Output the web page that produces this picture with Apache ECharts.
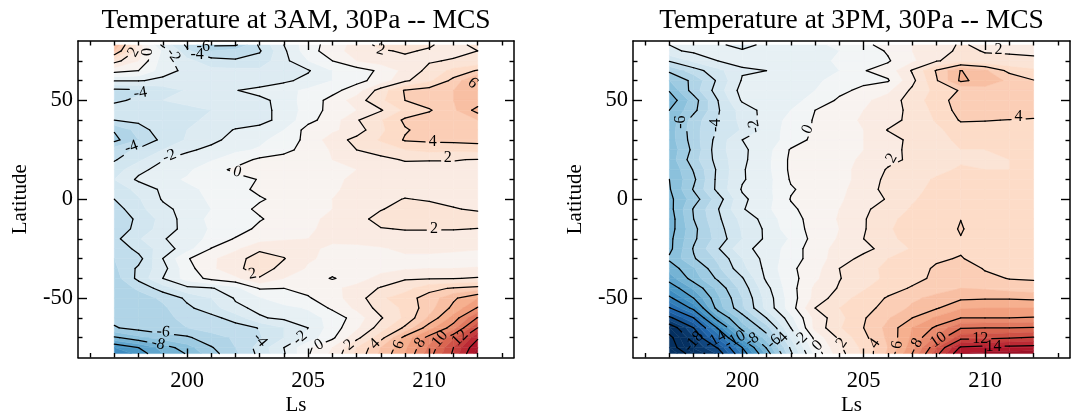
<!DOCTYPE html>
<html><head><meta charset="utf-8">
<style>html,body{margin:0;padding:0;background:#fff}#c{width:1080px;height:413px}</style>
<script src="https://cdn.jsdelivr.net/npm/echarts@6/dist/echarts.min.js"></script>
</head><body><div id="c"></div>
<script>
const titles = ['Temperature at 3AM, 30Pa -- MCS', 'Temperature at 3PM, 30Pa -- MCS'];
const ls = [197,198,199,200,201,202,203,204,205,206,207,208,209,210,211,212];
const lat = [78,75,70,65,60,55,50,45,40,35,30,25,20,15,10,5,0,-5,-10,-15,-20,-25,-30,-35,-40,-45,-50,-55,-60,-65,-70,-75,-78];
const am3 = [
[6,1.5,-2.3,-4.2,-6.2,-6.2,-3.8,-2,-0.4,0.4,1.4,2.3,2.4,2.1,1.6,2.3],
[5,1.5,-1.2,-3.8,-5,-4.5,-4.1,-2.2,-0.4,0.5,1.5,1.9,2.1,1.9,1.7,2.0],
[2.4,1,-1.5,-2.7,-3.6,-3.9,-3.6,-2.3,-1,0,1,1.5,1.8,1.9,2.1,2.2],
[0.4,0,-1.5,-2.3,-2.7,-2.7,-2.8,-2.4,-2.1,-1,-0.5,0.2,1.3,2.3,3.3,4.1],
[-1.9,-1.9,-2.3,-2.8,-3,-3,-2.8,-2.2,-1.7,-1,-0.3,0.4,1.8,2.8,4.3,6.4],
[-4.3,-4.2,-3.5,-2.9,-2.4,-2.05,-1.6,-1.3,-0.8,-0.3,0.5,2.5,4.1,4.5,5,5.5],
[-4.2,-3.8,-3,-2.8,-2.8,-2.5,-2.3,-1.6,-0.5,0.3,1.5,2.8,4,4.5,5,5.3],
[-3.5,-3.3,-3.2,-3.2,-3,-2.8,-2.4,-1.6,-0.6,0.4,1,1.9,3.2,3.9,4.8,6.4],
[-4,-3.7,-3.3,-3.1,-2.9,-2.7,-2.3,-1.7,-0.3,0.5,1.9,2.9,4.2,4.5,4.7,5],
[-5.9,-4.6,-3.3,-3,-2.7,-1.9,-1.7,-1,0.4,0.8,1.5,2.8,3.9,4.4,4.6,4.8],
[-6.3,-5,-3.7,-2.9,-2.3,-1.6,-1.2,-0.6,0.3,1.5,2.3,3.1,4.1,4.2,4.3,4.4],
[-4.5,-3.8,-3,-2.2,-1.7,-1.2,-0.9,-0.3,0.4,1.1,2,2.5,3,3.3,3.2,3.3],
[-4.1,-3.2,-2.05,-1.5,-1.1,-0.5,0.2,0.4,0.7,1,1.3,1.7,2.1,2.05,2.05,1.95],
[-3.5,-2.3,-1.6,-1.2,-0.4,0.2,0.4,0.5,0.7,0.9,1,1.2,1.5,1.6,1.7,1.7],
[-3,-1.8,-1.3,-0.9,-0.6,-0.3,0.05,0.3,0.6,0.9,1.1,1.2,1.4,1.5,1.5,1.5],
[-3.6,-2.7,-1.8,-1.2,-0.8,-0.3,0.2,0.4,0.6,0.9,1.2,1.4,1.6,1.6,1.6,1.7],
[-4,-3.1,-1.9,-1.3,-0.9,-0.5,-0.1,0.3,0.6,1,1.4,1.7,2.05,1.9,1.8,1.7],
[-4.5,-3.3,-2.3,-1.6,-1,-0.4,0.2,0.4,0.7,1,1.6,1.95,2.3,2.35,2.05,1.9],
[-5,-3.7,-2.7,-1.5,-0.8,-0.3,-0.1,0.5,0.8,1.2,1.7,2.3,2.6,2.7,2.6,2.4],
[-4.8,-3.6,-2.6,-1.6,-0.9,-0.6,0.3,0.6,0.9,1.2,1.5,1.95,2.05,2.05,2.05,1.98],
[-4.3,-3.1,-2.1,-1.4,-0.8,0.1,0.6,0.9,1,1.2,1.4,1.5,1.6,1.6,1.5,1.4],
[-5,-3.6,-2.6,-1.4,0.05,0.8,1.8,1.6,1.2,0.8,0.7,0.9,1.2,1.3,1.2,1.1],
[-5,-4.4,-2,-0.1,0.8,1.6,2.5,2.05,1.1,0.8,0.7,0.8,0.8,0.7,0.6,0.4],
[-5.2,-3.8,-2.4,-0.4,0.8,1.7,2.6,1.6,0.9,0.5,0.6,0.7,0.9,1,1,1.1],
[-5.5,-3.7,-2,-0.6,0.3,0.8,1.9,1,0.7,-0.1,0.6,1.3,1.9,1.9,1.95,2.1],
[-5.8,-4.8,-3.5,-2.3,-2.1,-1.3,0.1,0,0.3,0.8,1.3,2.1,2.6,3.7,4.1,4.4],
[-6,-5.5,-4.8,-3.8,-3,-1.9,-1.1,-0.4,-0.1,0.6,1.5,2.8,3.6,4.4,5.8,7],
[-6,-5.7,-5.2,-4.2,-3.5,-2.2,-1.8,-1.3,-0.9,0.2,1.2,2.4,3.2,4.6,6.3,8.1],
[-5.7,-5.4,-5.2,-4.8,-4.3,-3.6,-2.1,-1.8,-1.4,-0.7,0.5,1.9,3.2,5.2,7.4,10.1],
[-6.1,-5.6,-5.2,-5,-4.7,-4.4,-3.95,-3,-2,-0.5,0.8,2.5,4.2,6.6,8.5,12],
[-8.2,-7.3,-6.6,-6.2,-5.3,-4.9,-4.1,-3,-1.6,-0.2,1.7,3.6,6.4,8.4,10.8,13.8],
[-11,-10,-8.6,-7.4,-6.1,-5,-3.6,-2,-0.2,1,3,5,6.8,9.2,12,15],
[-12,-10.6,-9,-7.9,-6.4,-5.2,-3.7,-2.1,-0.1,1.2,3.2,5.2,7,9.5,12.2,15.5]
];
const pm3 = [
[-2,-1.8,-1.9,-2.2,-1.85,-1.5,-1.2,-0.8,-0.2,0.3,1,1.6,2.1,1.8,1.8,1.6],
[-2.2,-1.8,-1.8,-1.93,-1.7,-1.6,-1.3,-1,-0.5,0.1,1,1.6,2.2,1.95,1.95,1.9],
[-3.9,-2.8,-2,-1.8,-1.6,-1.5,-1.2,-0.9,-0.6,-0.1,0.8,1.9,2.5,2.2,2.1,2.1],
[-5.8,-4.5,-3.3,-2.1,-2,-1.2,-1.1,-1,-0.05,0.4,2.1,4.1,6.05,5.2,3.7,3.2],
[-7,-5.7,-3.8,-1.9,-1.5,-1.3,-1.1,-0.8,-0.3,-0.1,1.7,3.9,6.2,5.6,4.8,4.05],
[-7.9,-5.5,-3.5,-1.6,-1.3,-1.2,-1,-0.3,0.3,0.8,2.2,3.3,4.1,4.6,4.5,4.5],
[-8.7,-6.5,-4,-1.85,-1.3,-1.2,-0.8,0.2,0.8,1.4,2.5,3.5,4.5,4.7,4.6,4.5],
[-8,-6.3,-4.1,-2.6,-1.6,-1,0,0.6,1,1.5,2.3,3.3,4.4,4.6,4.6,4.5],
[-7.7,-5.5,-4,-2.7,-1.6,-0.7,0.1,0.7,1.1,1.6,2.3,3.1,4.1,4.05,3.97,3.9],
[-7.5,-5.4,-3.9,-2.9,-1.7,-0.5,0.1,0.6,1,2.05,2.4,2.8,3.5,3.6,3.6,3.5],
[-7.5,-5.5,-3.6,-2,-1.5,-0.6,0.3,0.7,1,1.5,2.3,2.7,3.2,3.2,3.2,3.2],
[-7.7,-5.7,-3.4,-2.2,-1.4,0.1,0.4,0.7,1,1.6,2.3,2.7,3,3,3.1,3.1],
[-7.6,-5.4,-3.6,-2.2,-1.3,0.2,0.5,0.8,1.1,1.7,2.2,2.6,2.9,2.9,3,3],
[-7.9,-5.9,-3.8,-2.1,-1.3,0.2,0.5,0.8,1.2,2.1,2.5,2.8,3.1,3,3,3],
[-8,-6.2,-3.7,-2.1,-1.4,0.1,0.4,0.7,1.3,2.3,2.7,3.1,3.4,3.4,3.1,3],
[-8.1,-5.9,-3.7,-1.9,-1.3,-0.1,0.4,0.8,1.4,2.4,2.8,3.2,3.6,3.6,3.3,3],
[-8.3,-6.5,-4.5,-2.2,-1.4,0.05,0.6,0.9,1.4,2.1,2.9,3.4,3.8,3.8,3.4,3.1],
[-8.4,-5.9,-4.05,-2.1,-1.2,-0.2,0.5,1,1.8,2.5,3.1,3.6,3.95,3.95,3.5,3.2],
[-8.6,-6,-4.2,-2.7,-1.6,-0.3,0.3,1.1,1.9,2.8,3.3,3.8,3.995,3.9,3.5,3.2],
[-8.5,-6.3,-4.4,-2.9,-1.8,-0.4,0.3,1,1.9,2.9,3.4,3.8,4.03,3.8,3.4,3.3],
[-8.3,-6.2,-4.6,-3,-1.8,-0.9,0.4,1.1,2,2.8,3.3,3.7,3.985,3.6,3.3,3.4],
[-8.3,-5.9,-4.1,-2.3,-1.6,-0.6,0.6,1.3,1.7,2.4,3.1,3.6,3.9,3.5,3.3,3.4],
[-7.8,-6.1,-4.8,-3,-1.6,-0.5,0.5,1.5,2.3,3,3.5,3.9,4.05,3.7,3.5,3.6],
[-8.6,-7.1,-5.2,-3.3,-1.7,-0.2,0.6,2,2.7,3.2,3.7,4.1,4.7,3.9,3.7,3.7],
[-9.5,-7.5,-5.8,-4.1,-1.8,-0.4,0.8,1.95,2.6,3.2,3.7,4.2,4.7,4.3,3.95,3.9],
[-10.8,-8.8,-6.7,-4.6,-2.3,-0.4,1.2,2.1,2.9,3.6,4.1,4.6,5,4.9,4.6,4.4],
[-12.3,-10,-7.2,-5,-2.6,-0.5,1.3,2.6,3.4,4.1,4.8,5.3,5.8,5.9,5.9,5.8],
[-14.1,-11.6,-7.5,-5.2,-2.7,-0.5,2,3,3.7,4.3,5.2,5.9,6.9,7,7,7],
[-16.3,-14,-9.3,-6.5,-4,-1.3,1.3,2.7,3.9,4.9,6,7.2,8,8,8,8.1],
[-19,-16,-11.8,-7.5,-5.4,-2,1.3,2.9,4,5.3,7,8.2,9.9,10,10,10.1],
[-20.5,-17.1,-13.8,-9.6,-6.5,-2.9,0.3,2.2,3.7,5.2,7.2,9.2,11.6,11.7,11.9,12.1],
[-21,-17.8,-15.9,-12,-7.9,-3.8,-0.3,1.8,3.3,5,7.6,10.9,14.2,14.4,14.4,14.5],
[-22,-19,-16.8,-12.8,-8.7,-4.2,-0.7,1.6,3.2,5.2,8,11.6,15,15.2,15.3,15.5]
];
const amLabels = [
['-6',200.67,76.9,0],['-4',200.42,72.8,0],['-2',199.43,72.8,-55],['0',198.4,74.4,90],['2',197.8,74.4,60],
['-4',198.07,53.7,10],['-4',197.7,26.4,20],['-2',199.27,21.8,22],['0',202.07,13.8,-15],['2',202.7,-37.8,10],
['-6',199.02,-67.1,-5],['-8',198.81,-73.1,-15],['-4',203.02,-71.1,-50],['-2',204.67,-70.1,40],['0',205.45,-73.6,30],
['2',206.69,-73.6,40],['4',207.76,-73.1,45],['6',208.75,-73.6,70],['8',209.62,-72.6,55],['10',210.44,-70.6,50],['12',211.27,-70.1,45],
['2',208,75.4,-15],['2',210.77,20.8,0],['4',210.15,28.9,0],['6',211.8,58.7,-40],['2',210.2,-15,0]
];
const pmLabels = [
['-6',197.45,39,90],['-4',198.9,37.4,90],['-2',200.5,37,100],['0',202.69,35.4,65],['2',206.15,20.8,60],
['2',210.56,75.4,0],['4',211.38,41.5,0],['-18',198,-72,50],['-14',198.9,-71,30],['-10',199.7,-71,30],['-8',200.4,-71,35],
['-6',201.3,-72,40],['-4',201.6,-71,45],['-2',202.4,-71,45],['0',203.1,-74,45],['2',204.1,-72.6,55],
['4',205.45,-73,55],['6',206.39,-73.6,80],['8',207.2,-72.6,60],['10',208.08,-71,35],['12',209.8,-70.6,0],['14',210.35,-74.6,0]
];
const majorX = [200,205,210], minorX = [196,197,198,199,201,202,203,204,206,207,208,209,211,212,213];
const majorY = [-50,0,50], minorY = [-70,-60,-40,-30,-20,-10,10,20,30,40,60,70];
const xRange = [195.5,213.5], yRange = [-80,80];
const rdbu = ['#053061','#2166ac','#4393c3','#92c5de','#d1e5f0','#f7f7f7','#fddbc7','#f4a582','#d6604d','#b2182b','#67001f'];
const colourLimit = 18;

function colour(v){
  let t=(v+colourLimit)/(2*colourLimit)*10; t=Math.max(0,Math.min(9.9999,t));
  const i=Math.floor(t),f=t-i,a=parseInt(rdbu[i].slice(1),16),b=parseInt(rdbu[i+1].slice(1),16);
  const m=s=>Math.round(((a>>s)&255)*(1-f)+((b>>s)&255)*f);
  return `rgb(${m(16)},${m(8)},${m(0)})`;
}
function clip(poly,lev,keepAbove){
  const out=[];
  for(let i=0;i<poly.length;i++){
    const p=poly[i],q=poly[(i+1)%poly.length];
    const pin=keepAbove?p[2]>=lev:p[2]<=lev, qin=keepAbove?q[2]>=lev:q[2]<=lev;
    if(pin)out.push(p);
    if(pin!==qin){const t=(lev-p[2])/(q[2]-p[2]);out.push([p[0]+t*(q[0]-p[0]),p[1]+t*(q[1]-p[1]),lev]);}
  }
  return out;
}
function bands(z){
  const res=[];
  for(let r=0;r<lat.length-1;r++)for(let c=0;c<ls.length-1;c++){
    const q=[[ls[c],lat[r],z[r][c]],[ls[c+1],lat[r],z[r][c+1]],[ls[c+1],lat[r+1],z[r+1][c+1]],[ls[c],lat[r+1],z[r+1][c]]];
    const vs=q.map(p=>p[2]),mn=Math.min(...vs),mx=Math.max(...vs);
    for(let lo=Math.floor(mn);lo<mx||lo===mn;lo++){
      let p=clip(q,lo,true); if(p.length)p=clip(p,lo+1,false);
      if(p.length>=3)res.push({pts:p,col:colour(lo+0.5)});
    }
  }
  return res;
}
function segments(z,labels){
  const sx=24.25,sy=1.98,res=[];
  for(let lev=-20;lev<=14;lev+=2){
    const cuts=labels.filter(l=>Number(l[0])===lev).map(l=>({x:l[1],y:l[2],r:4+3.8*l[0].length}));
    for(let r=0;r<lat.length-1;r++)for(let c=0;c<ls.length-1;c++){
      const q=[[ls[c],lat[r],z[r][c]],[ls[c+1],lat[r],z[r][c+1]],[ls[c+1],lat[r+1],z[r+1][c+1]],[ls[c],lat[r+1],z[r+1][c]]];
      const cr=[];
      for(let i=0;i<4;i++){
        const p=q[i],n=q[(i+1)%4];
        if((p[2]>=lev)!==(n[2]>=lev)){const t=(lev-p[2])/(n[2]-p[2]);cr.push([p[0]+t*(n[0]-p[0]),p[1]+t*(n[1]-p[1])]);}
      }
      let pairs=[];
      if(cr.length===2)pairs=[[cr[0],cr[1]]];
      else if(cr.length===4){
        const mean=(q[0][2]+q[1][2]+q[2][2]+q[3][2])/4;
        pairs=((mean>=lev)===(q[0][2]>=lev))?[[cr[0],cr[1]],[cr[2],cr[3]]]:[[cr[3],cr[0]],[cr[1],cr[2]]];
      }
      for(let [a,b] of pairs){
        let parts=[[0,1]];
        for(const k of cuts){
          const dx=(b[0]-a[0])*sx,dy=(b[1]-a[1])*sy,fx=(a[0]-k.x)*sx,fy=(a[1]-k.y)*sy;
          const A=dx*dx+dy*dy,B=2*(fx*dx+fy*dy),C=fx*fx+fy*fy-k.r*k.r,D=B*B-4*A*C;
          if(A===0||D<=0)continue;
          const t0=(-B-Math.sqrt(D))/(2*A),t1=(-B+Math.sqrt(D))/(2*A),nx=[];
          for(const [s,e] of parts){
            if(t1<=s||t0>=e){nx.push([s,e]);continue;}
            if(t0>s)nx.push([s,t0]);
            if(t1<e)nx.push([t1,e]);
          }
          parts=nx;
        }
        for(const [s,e] of parts)res.push([[a[0]+s*(b[0]-a[0]),a[1]+s*(b[1]-a[1])],[a[0]+e*(b[0]-a[0]),a[1]+e*(b[1]-a[1])]]);
      }
    }
  }
  return res;
}

const FONT='"Liberation Serif","Times New Roman",serif';
const grids=[{left:78,top:41,width:436,height:316.5,outerBoundsMode:'none'},{left:633,top:41,width:437,height:316.5,outerBoundsMode:'none'}];
const xAxes=[],yAxes=[],series=[];
const line={show:true,onZero:false,lineStyle:{color:'#000',width:1.5}};
function tick(vals,len){return {show:true,inside:true,length:len,customValues:vals,lineStyle:{color:'#000',width:1.4}};}
[[am3,amLabels],[pm3,pmLabels]].forEach(([z,labels],g)=>{
  const base=xAxes.length;
  ['bottom','top'].forEach(pos=>{
    xAxes.push({type:'value',gridIndex:g,position:pos,min:xRange[0],max:xRange[1],axisLine:line,axisTick:tick(majorX,9),splitLine:{show:false},z:6,
      axisLabel:pos==='bottom'?{show:true,customValues:majorX,color:'#000',fontFamily:FONT,fontSize:22.5,margin:12}:{show:false},
      ...(pos==='bottom'?{name:'Ls',nameLocation:'middle',nameMoveOverlap:false,nameGap:37,nameTextStyle:{color:'#000',fontFamily:FONT,fontSize:21}}:{})});
    xAxes.push({type:'value',gridIndex:g,position:pos,min:xRange[0],max:xRange[1],axisLine:{show:false,onZero:false},axisTick:tick(minorX,4.5),splitLine:{show:false},axisLabel:{show:false},z:6});
  });
  ['left','right'].forEach(pos=>{
    yAxes.push({type:'value',gridIndex:g,position:pos,min:yRange[0],max:yRange[1],axisLine:line,axisTick:tick(majorY,9),splitLine:{show:false},z:6,
      axisLabel:pos==='left'?{show:true,customValues:majorY,color:'#000',fontFamily:FONT,fontSize:22.5,margin:5}:{show:false},
      ...(pos==='left'?{name:'Latitude',nameLocation:'middle',nameGap:47,nameTextStyle:{color:'#000',fontFamily:FONT,fontSize:21}}:{})});
    yAxes.push({type:'value',gridIndex:g,position:pos,min:yRange[0],max:yRange[1],axisLine:{show:false,onZero:false},axisTick:tick(minorY,4.5),splitLine:{show:false},axisLabel:{show:false},z:6});
  });
  const polys=bands(z),segs=segments(z,labels);
  series.push({type:'custom',coordinateSystem:'cartesian2d',xAxisIndex:base,yAxisIndex:base,z:2,silent:true,animation:false,
    data:polys.map((p,i)=>[p.pts[0][0],p.pts[0][1],i]),
    renderItem:(params,api)=>{const p=polys[api.value(2)];
      return {type:'polygon',shape:{points:p.pts.map(a=>api.coord([a[0],a[1]]))},style:{fill:p.col,stroke:p.col,lineWidth:0.5}};}});
  series.push({type:'custom',coordinateSystem:'cartesian2d',xAxisIndex:base,yAxisIndex:base,z:3,silent:true,animation:false,
    data:segs.map((s,i)=>[s[0][0],s[0][1],i]),
    renderItem:(params,api)=>{const s=segs[api.value(2)],a=api.coord(s[0]),b=api.coord(s[1]);
      return {type:'line',shape:{x1:a[0],y1:a[1],x2:b[0],y2:b[1]},style:{stroke:'#000',lineWidth:1.25,lineCap:'round'}};}});
  series.push({type:'custom',coordinateSystem:'cartesian2d',xAxisIndex:base,yAxisIndex:base,z:4,silent:true,animation:false,
    data:labels.map((l,i)=>[l[1],l[2],i]),
    renderItem:(params,api)=>{const l=labels[api.value(2)],a=api.coord([l[1],l[2]]);
      return {type:'text',x:a[0],y:a[1],rotation:l[3]*Math.PI/180,style:{text:l[0],fill:'#000',font:'16px '+FONT,align:'center',verticalAlign:'middle'}};}});
});
const chart=echarts.init(document.getElementById('c'),null,{renderer:'canvas'});
chart.setOption({animation:false,backgroundColor:'#fff',
  title:titles.map((t,i)=>({text:t,left:grids[i].left+grids[i].width/2,top:7,padding:0,textAlign:'center',textStyle:{color:'#000',fontFamily:FONT,fontSize:27.5,fontWeight:'normal'}})),
  grid:grids,xAxis:xAxes,yAxis:yAxes,series});
</script></body></html>
